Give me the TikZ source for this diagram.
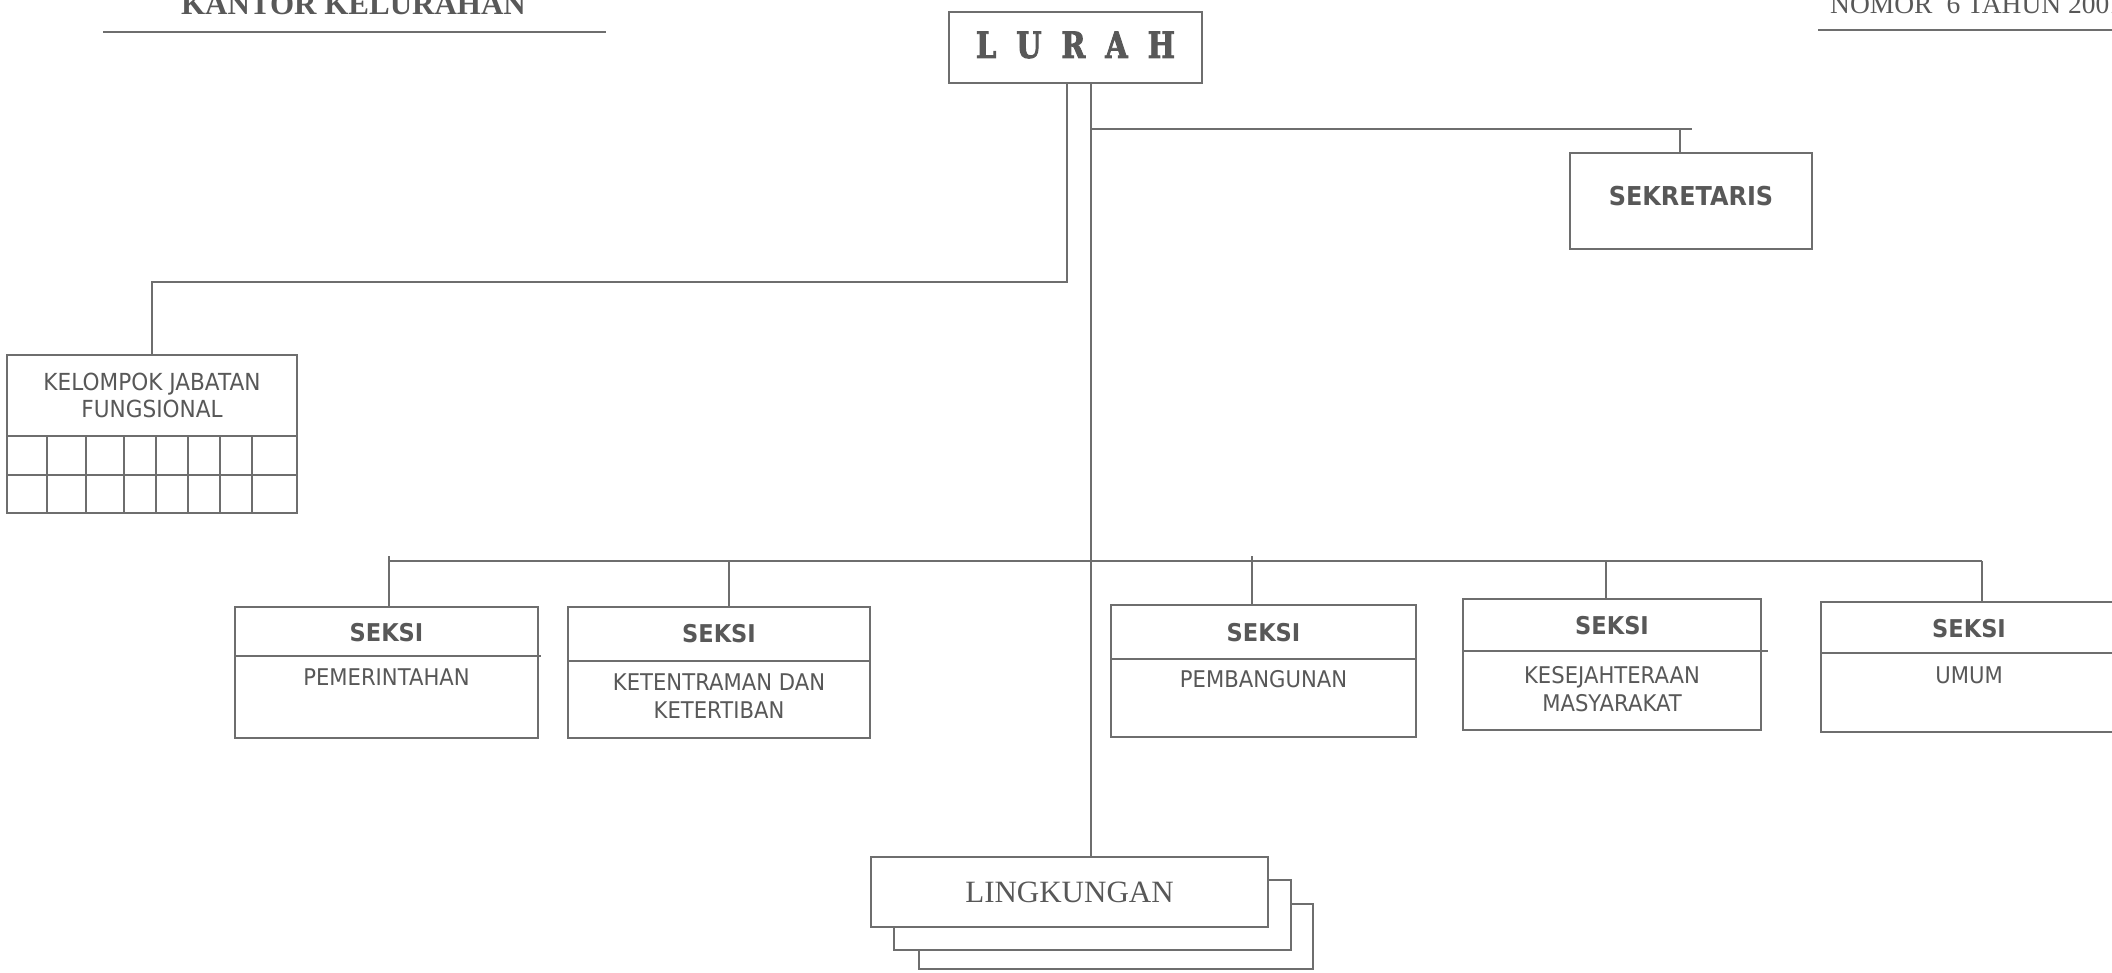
\documentclass[tikz,border=0pt]{standalone}
\usepackage{fontspec}
\newfontfamily\tahfont[FakeStretch=0.92]{DejaVu Sans}
\newfontfamily\timesfont{Liberation Serif}
\newfontfamily\lurahfont[FakeStretch=0.8,FakeBold=2.5]{DejaVu Serif}
\definecolor{ln}{HTML}{6E6E6E}
\definecolor{tx}{HTML}{585858}
\newcommand\seksibox[9]{%
  \node[box,minimum width={#3-#2},minimum height={#5-#4}] (#1) at ({(#2+#3)/2},{(#4+#5)/2}) {};
  \draw[conn] (#2,#6) -- (#3,#6);
  \node[lbl,font=\tahfont\bfseries\fontsize{24.5}{28}\selectfont] (#1h) at ({(#2+#3)/2},#7) {SEKSI};
  \node[lbl,font=\tahfont\fontsize{23}{28}\selectfont] (#1t) at ({(#2+#3)/2},#8) {#9};
}
\begin{document}
\begin{tikzpicture}[x=1pt,y=-1pt,
  box/.style={draw=ln,line width=2.2pt,fill=white,rectangle,inner sep=0pt,text=tx,align=center},
  conn/.style={draw=ln,line width=2.2pt},
  lbl/.style={inner sep=0pt,text=tx,align=center}]
\useasboundingbox (0,0) rectangle (2112,972);

% headers
\node[lbl,anchor=base,font=\timesfont\bfseries\fontsize{31}{31}\selectfont] (hl) at (353.5,14) {KANTOR KELURAHAN};
\draw[ln,line width=2.6pt] (103,32) -- (606,32);
\node[lbl,anchor=base west,font=\timesfont\fontsize{27.5}{27.5}\selectfont] (hr) at (1830,13) {NOMOR\hspace{14pt}6 TAHUN 2001};
\draw[ln,line width=2.2pt] (1818,30) -- (2112,30);

% LURAH
\node[box,minimum width=253,minimum height=71] (lurah) at (1075.5,47.5) {};
\node[lbl,font=\lurahfont\bfseries\fontsize{36}{36}\selectfont] (lurahT) at (1075.5,45)
  {L\hspace{20pt}U\hspace{20pt}R\hspace{20pt}A\hspace{20pt}H};

% SEKRETARIS
\node[box,minimum width=242,minimum height=96] (sek) at (1691,201) {};
\node[lbl,font=\tahfont\bfseries\fontsize{26}{30}\selectfont] (sekT) at (1691,196) {SEKRETARIS};

% KELOMPOK JABATAN FUNGSIONAL
\node[box,minimum width=290,minimum height=81,font=\tahfont\fontsize{23.5}{27}\selectfont] (kjf) at (152,395.5) {KELOMPOK JABATAN\\FUNGSIONAL};
\node[box,minimum width=290,minimum height=77] (kjfg) at (152,474.5) {};
\draw[conn] (7,475) -- (297,475);
\foreach \gx in {47,86,124,156,188,220,252} \draw[conn] (\gx,436) -- (\gx,513);

% SEKSI boxes
\seksibox{s1}{235}{538}{607}{738}{656}{633}{677}{PEMERINTAHAN}
\draw[conn] (538,656) -- (541,656);
\seksibox{s2}{568}{870}{607}{738}{661}{634}{696}{KETENTRAMAN DAN\\KETERTIBAN}
\seksibox{s3}{1111}{1416}{605}{737}{659}{633}{679}{PEMBANGUNAN}
\seksibox{s4}{1463}{1761}{599}{730}{651}{626}{689}{KESEJAHTERAAN\\MASYARAKAT}
\draw[conn] (1761,651) -- (1768,651);
\seksibox{s5}{1821}{2117}{602}{732}{653}{629}{675}{UMUM}

% LINGKUNGAN stack
\node[box,minimum width=394,minimum height=65] (ling3) at (1116,936.5) {};
\node[box,minimum width=397,minimum height=70] (ling2) at (1092.5,915) {};
\node[box,minimum width=397,minimum height=70,font=\timesfont\fontsize{31}{31}\selectfont] (ling) at (1069.5,892) {LINGKUNGAN};

% connectors
\coordinate (mx) at (1091,0);
\draw[conn] (lurah.south -| mx) -- (ling.north -| mx);
\coordinate (lx) at (1067,282);
\draw[conn] (lurah.south -| lx) -- (lx) -- (lx -| kjf.north) -- (kjf.north);
\coordinate (rj) at (1091,129);
\coordinate (rx) at (1680,129);
\coordinate (re) at (1692,129);
\draw[conn] (rj) -- (re);
\draw[conn] (rx) -- (rx |- sek.north);
\coordinate (busL) at (389,561);
\coordinate (busR) at (1982,561);
\draw[conn] (busL) -- (busR);
\coordinate (d1) at (389,556);
\coordinate (d2) at (729,560);
\coordinate (d3) at (1252,556);
\coordinate (d4) at (1606,561);
\draw[conn] (d1) -- (d1 |- s1.north);
\draw[conn] (d2) -- (d2 |- s2.north);
\draw[conn] (d3) -- (d3 |- s3.north);
\draw[conn] (d4) -- (d4 |- s4.north);
\draw[conn] (busR) -- (busR |- s5.north);
\end{tikzpicture}
\end{document}
